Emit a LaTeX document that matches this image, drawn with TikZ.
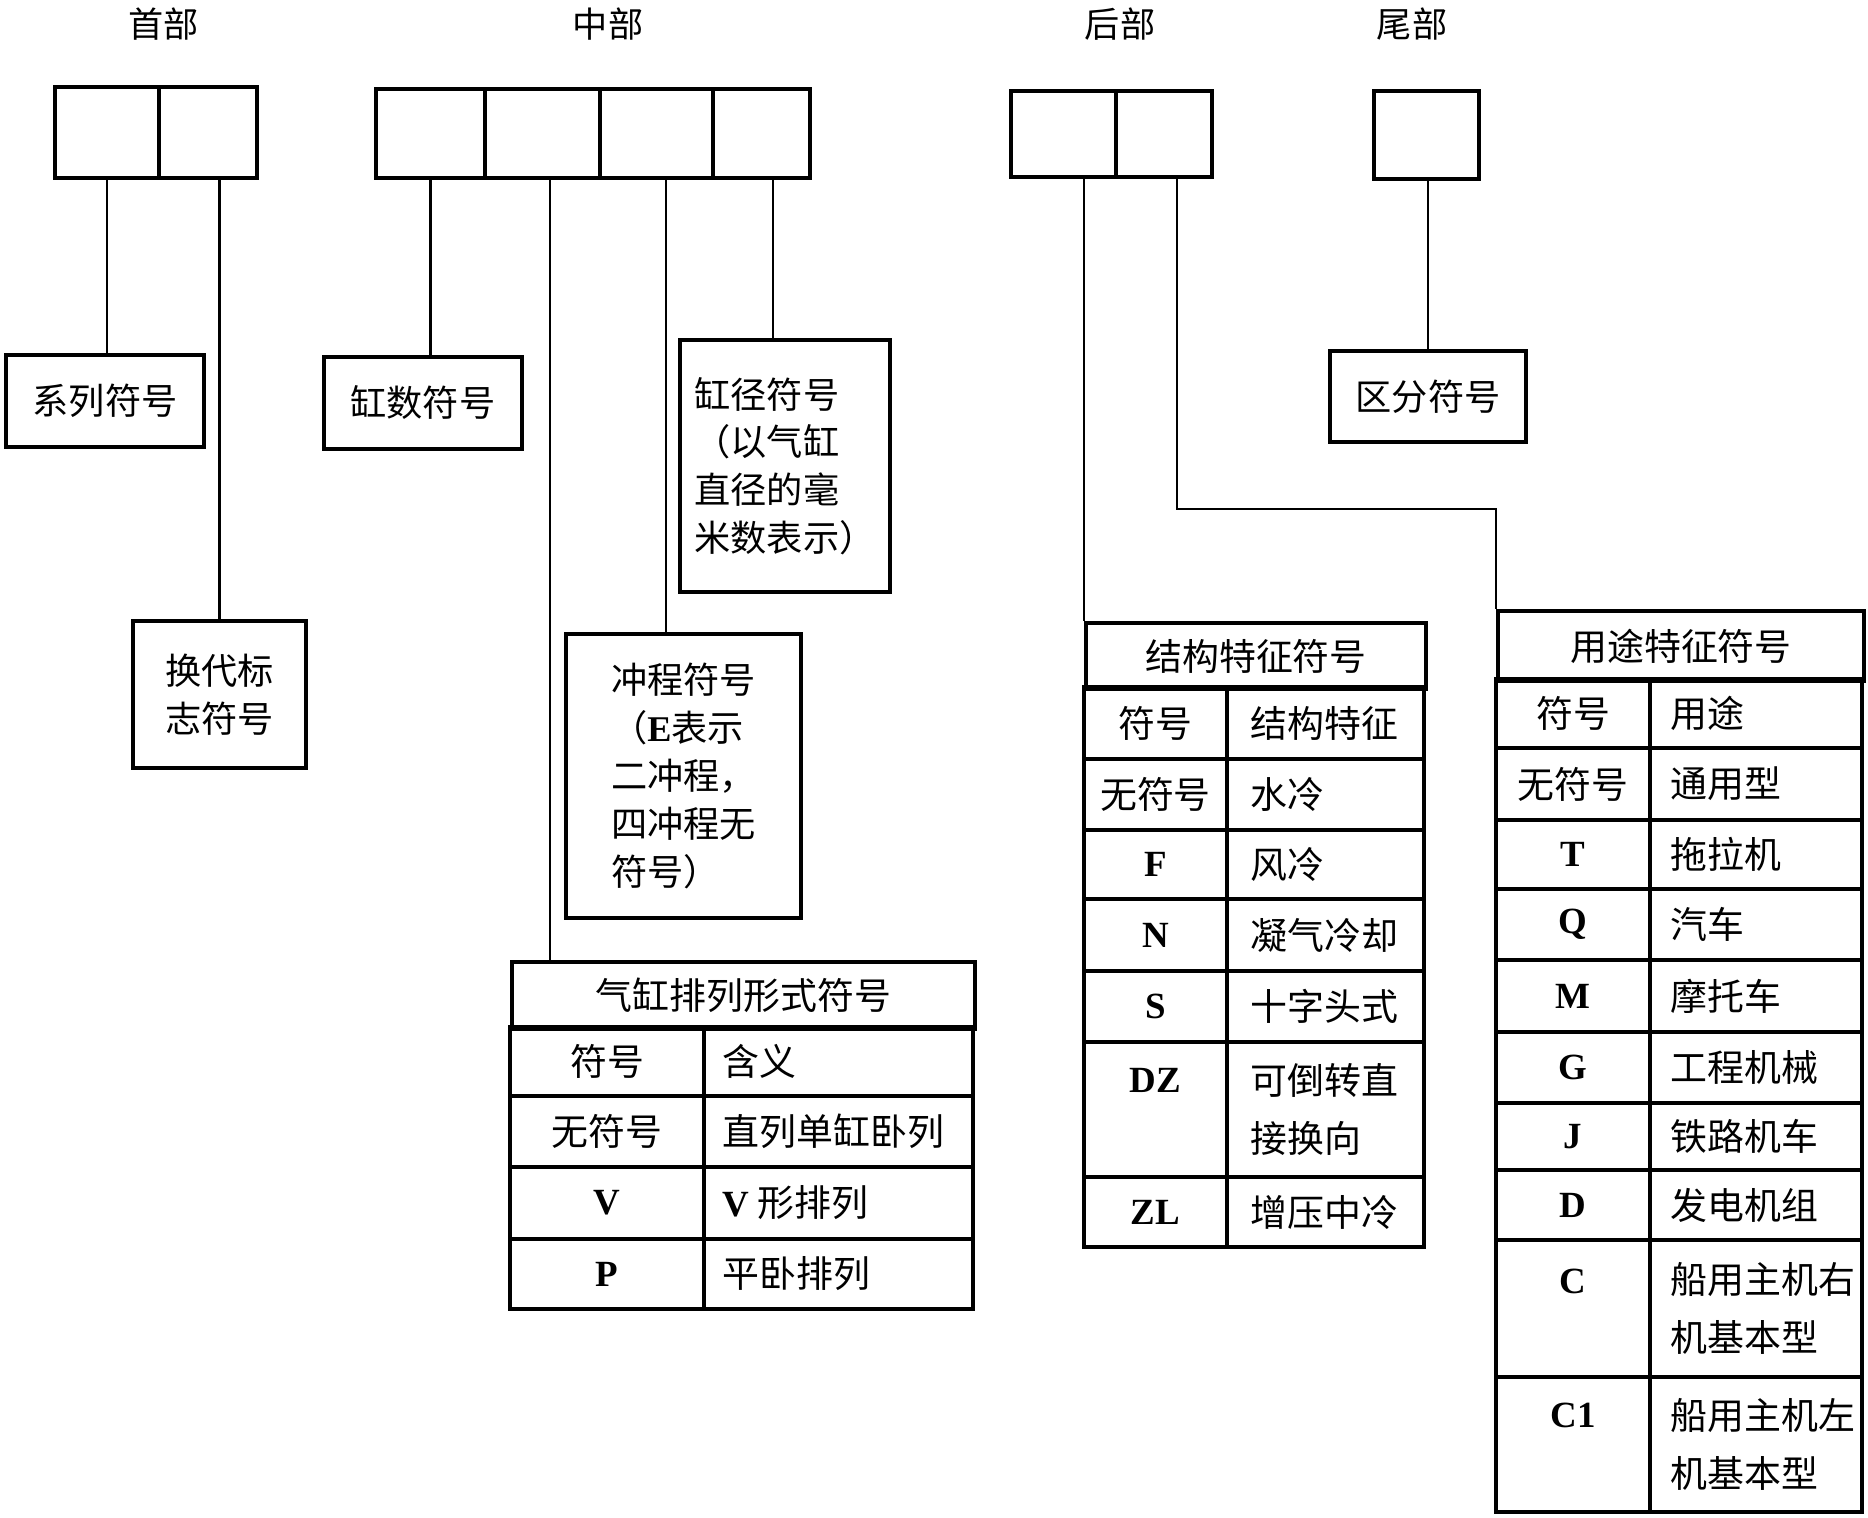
\documentclass[tikz,border=0pt]{standalone}
\usepackage{fontspec}
\setmainfont{Noto Sans CJK SC}
\newfontfamily\latinfont{Liberation Serif}
\newcommand{\lat}[1]{{\latinfont\bfseries #1}}

\tikzset{
  part/.style={inner sep=0pt, font=\fontsize{10}{12}\selectfont},
  cell/.style={draw, line width=1.1pt, inner sep=0pt, anchor=north west},
  box/.style={draw, line width=1.1pt, inner sep=0pt, align=left, font=\fontsize{10.3}{13.6}\selectfont},
  link/.style={line width=0.75pt},
  grid/.style={line width=1.1pt},
  head/.style={draw, line width=1.1pt, inner sep=0pt, anchor=north west, font=\fontsize{10.5}{12}\selectfont},
  txt/.style={inner sep=0pt, align=left, font=\fontsize{10.5}{16.5}\selectfont},
}

\begin{document}
\begin{tikzpicture}[x=0.01cm, y=-0.01cm]
\useasboundingbox (0,0) rectangle (1868,1518);

% part titles
\node[part] (shoubu) at (164,24) {首部};
\node[part] (zhongbu) at (608,24) {中部};
\node[part] (houbu) at (1120,24) {后部};
\node[part] (weibu) at (1412,24) {尾部};

% code cells
\node[cell, minimum width=1.04cm, minimum height=0.91cm] (h1) at (53,85) {};
\node[cell, minimum width=0.98cm, minimum height=0.91cm] (h2) at (157,85) {};
\node[cell, minimum width=1.09cm, minimum height=0.89cm] (m1) at (374,87) {};
\node[cell, minimum width=1.15cm, minimum height=0.89cm] (m2) at (483,87) {};
\node[cell, minimum width=1.13cm, minimum height=0.89cm] (m3) at (598,87) {};
\node[cell, minimum width=0.97cm, minimum height=0.89cm] (m4) at (711,87) {};
\node[cell, minimum width=1.05cm, minimum height=0.86cm] (r1) at (1009,89) {};
\node[cell, minimum width=0.96cm, minimum height=0.86cm] (r2) at (1114,89) {};
\node[cell, minimum width=1.05cm, minimum height=0.88cm] (t1) at (1372,89) {};

% explanation boxes
\node[box, minimum width=1.98cm, minimum height=0.92cm] (xilie) at (105,401) {系列符号};
\node[box, minimum width=1.73cm, minimum height=1.47cm] (huandai) at (219.5,694.5) {换代标\\志符号};
\node[box, minimum width=1.98cm, minimum height=0.92cm] (gangshu) at (423,403) {缸数符号};
\node[box, minimum width=2.10cm, minimum height=2.52cm] (gangjing) at (785,466) {缸径符号\\（以气缸\\直径的毫\\米数表示）};
\node[box, minimum width=2.35cm, minimum height=2.84cm] (chong) at (683.5,776) {冲程符号\\（\lat{E}表示\\二冲程，\\四冲程无\\符号）};
\node[box, minimum width=1.96cm, minimum height=0.91cm] (qufen) at (1428,396.5) {区分符号};

% cylinder arrangement table
\node[head, minimum width=4.63cm, minimum height=0.67cm] (pailie) at (510,960) {气缸排列形式符号};
\foreach \ya/\yb/\s/\m [count=\i] in {1027/1096/符号/含义, 1096/1167/无符号/直列单缸卧列,
    1167/1239/\lat{V}/\lat{V} 形排列, 1239/1309/\lat{P}/平卧排列} {
  \draw[grid] (510,\ya) rectangle (704,\yb) (704,\ya) rectangle (973,\yb);
  \node[txt] (pls\i) at (607,{(\ya+\yb)/2}) {\s};
  \node[txt, anchor=west] (plm\i) at (722,{(\ya+\yb)/2}) {\m};
}

% structure table
\node[head, minimum width=3.40cm, minimum height=0.66cm] (jiegou) at (1084,621) {结构特征符号};
\foreach \ya/\yb/\ys/\s/\m [count=\i] in {687/759/723/符号/结构特征, 759/830/794.5/无符号/水冷,
    830/899/864.5/\lat{F}/风冷, 899/971/935/\lat{N}/凝气冷却, 971/1042/1006.5/\lat{S}/十字头式,
    1042/1177/1080/\lat{DZ}/{可倒转直\\接换向}, 1177/1247/1212/\lat{ZL}/增压中冷} {
  \draw[grid] (1084,\ya) rectangle (1227,\yb) (1227,\ya) rectangle (1424,\yb);
  \node[txt] (jgs\i) at (1155.5,\ys) {\s};
  \node[txt, anchor=west] (jgm\i) at (1250,{(\ya+\yb)/2}) {\m};
}

% usage table
\node[head, minimum width=3.66cm, minimum height=0.70cm] (yongtu) at (1496,609) {用途特征符号};
\foreach \ya/\yb/\ys/\s/\m [count=\i] in {679/748/713.5/符号/用途, 748/820/784/无符号/通用型,
    820/889/854.5/\lat{T}/拖拉机, 889/960/924.5/\lat{Q}/汽车, 960/1032/996/\lat{M}/摩托车,
    1032/1103/1067.5/\lat{G}/工程机械, 1103/1170/1136.5/\lat{J}/铁路机车, 1170/1240/1205/\lat{D}/发电机组,
    1240/1377/1281/\lat{C}/{船用主机右\\机基本型}, 1377/1512/1415/\lat{C1}/{船用主机左\\机基本型}} {
  \draw[grid] (1496,\ya) rectangle (1650,\yb) (1650,\ya) rectangle (1862,\yb);
  \node[txt] (yts\i) at (1573,\ys) {\s};
  \node[txt, anchor=west] (ytm\i) at (1670,{(\ya+\yb)/2}) {\m};
}

% connectors
\draw[link] (h1.south) -- (h1.south |- xilie.north);
\draw[link] (huandai.north) -- (huandai.north |- h2.south);
\draw[link] (m1.south) -- (m1.south |- gangshu.north);
\draw[link] ([xshift=0.075cm]m2.south) -- ([xshift=0.075cm]m2.south |- pailie.north);
\draw[link] ([xshift=0.095cm]m3.south) -- ([xshift=0.095cm]m3.south |- chong.north);
\draw[link] ([xshift=0.115cm]m4.south) -- ([xshift=0.115cm]m4.south |- gangjing.north);
\draw[link] (jiegou.north west) -- (jiegou.north west |- r1.south);
\draw[link] ([xshift=0.13cm]r2.south) -- ++(0,330) -| (yongtu.north west);
\draw[link] (qufen.north) -- (qufen.north |- t1.south);
\end{tikzpicture}
\end{document}
